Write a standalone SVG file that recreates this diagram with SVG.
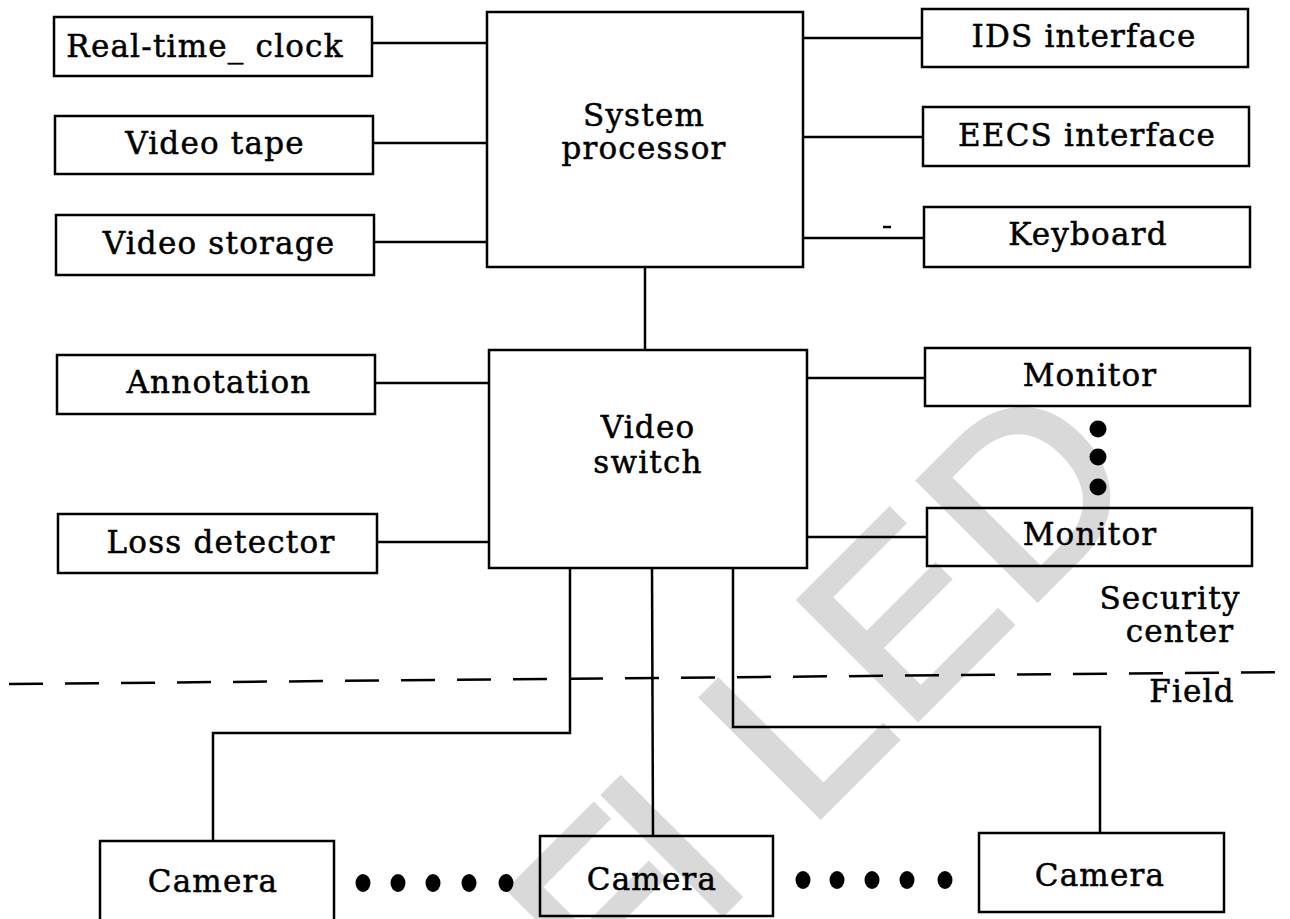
<svg xmlns="http://www.w3.org/2000/svg" width="1290" height="919" viewBox="0 0 1290 919">
<style>
.box{fill:none;stroke:#000;stroke-width:2.5}
.ln{fill:none;stroke:#000;stroke-width:2.5}
.lbl{font-family:"DejaVu Serif","Liberation Serif",serif;font-size:31px;letter-spacing:1.2px;fill:#000;stroke:#000;stroke-width:0.5;text-anchor:middle}
.wm{font-family:"Liberation Sans",Arial,sans-serif;font-size:243px;fill:#d9d9d9;stroke:#d9d9d9;stroke-width:6;stroke-linejoin:miter}
.dot{fill:#000}
</style>
<rect width="1290" height="919" fill="#fff"/>
<g id="watermark">
<text class="wm" transform="translate(614.1,1022.1) rotate(-45)">F</text>
<text class="wm" transform="translate(707.1,929.1) rotate(-45)">I</text>
<text class="wm" transform="translate(806.5,829.8) rotate(-45)">L</text>
<text class="wm" transform="translate(904,732.2) rotate(-45)">E</text>
<text class="wm" transform="translate(1023.5,612.7) rotate(-45)">D</text>
</g>
<g id="connectors">
<line class="ln" x1="372" y1="43" x2="487" y2="43"/>
<line class="ln" x1="373" y1="143" x2="487" y2="143"/>
<line class="ln" x1="374" y1="242" x2="487" y2="242"/>
<line class="ln" x1="803" y1="38" x2="922" y2="38"/>
<line class="ln" x1="803" y1="137" x2="923" y2="137"/>
<line class="ln" x1="803" y1="238" x2="924" y2="238"/>
<line class="ln" x1="883" y1="227" x2="891" y2="227"/>
<line class="ln" x1="645" y1="267" x2="645" y2="350"/>
<line class="ln" x1="375" y1="383" x2="489" y2="383"/>
<line class="ln" x1="377" y1="542" x2="489" y2="542"/>
<line class="ln" x1="807" y1="378" x2="925" y2="378"/>
<line class="ln" x1="807" y1="537" x2="927" y2="537"/>
<polyline class="ln" points="570,568 570,733 213,733 213,841"/>
<line class="ln" x1="652" y1="568" x2="653" y2="836"/>
<polyline class="ln" points="733,568 733,727 1100,727 1100,833"/>
<line class="ln" x1="9" y1="684" x2="1290" y2="672" stroke-dasharray="34 22"/>
</g>
<g id="real-time-clock"><rect class="box" x="54" y="17" width="318" height="59"/><text class="lbl" x="205" y="57">Real-time_ clock</text></g>
<g id="video-tape"><rect class="box" x="55" y="116" width="318" height="58"/><text class="lbl" x="215" y="154">Video tape</text></g>
<g id="video-storage"><rect class="box" x="56" y="215" width="318" height="60"/><text class="lbl" x="219" y="254">Video storage</text></g>
<g id="system-processor"><rect class="box" x="487" y="12" width="316" height="255"/><text class="lbl" x="644" y="126">System</text><text class="lbl" x="644" y="159">processor</text></g>
<g id="ids-interface"><rect class="box" x="922" y="9" width="326" height="58"/><text class="lbl" x="1084" y="47">IDS interface</text></g>
<g id="eecs-interface"><rect class="box" x="923" y="107" width="326" height="59"/><text class="lbl" x="1087" y="146">EECS interface</text></g>
<g id="keyboard"><rect class="box" x="924" y="207" width="326" height="60"/><text class="lbl" x="1088" y="245">Keyboard</text></g>
<g id="annotation"><rect class="box" x="57" y="355" width="318" height="59"/><text class="lbl" x="219" y="393">Annotation</text></g>
<g id="loss-detector"><rect class="box" x="58" y="514" width="319" height="59"/><text class="lbl" x="221" y="553">Loss detector</text></g>
<g id="video-switch"><rect class="box" x="489" y="350" width="318" height="218"/><text class="lbl" x="648" y="438">Video</text><text class="lbl" x="648" y="473">switch</text></g>
<g id="monitor-1"><rect class="box" x="925" y="348" width="325" height="58"/><text class="lbl" x="1090" y="386">Monitor</text></g>
<g id="monitor-dots"><circle class="dot" cx="1098" cy="429" r="8.5"/><circle class="dot" cx="1098" cy="457" r="8.5"/><circle class="dot" cx="1098" cy="487" r="8.5"/></g>
<g id="monitor-2"><rect class="box" x="927" y="508" width="325" height="58"/><text class="lbl" x="1090" y="545">Monitor</text></g>
<g id="security-center"><text class="lbl" x="1170" y="609">Security</text><text class="lbl" x="1180" y="642">center</text></g>
<g id="field"><text class="lbl" x="1192" y="702">Field</text></g>
<g id="camera-1"><rect class="box" x="100" y="841" width="234" height="85"/><text class="lbl" x="213" y="892">Camera</text></g>
<g id="camera-dots-1"><ellipse class="dot" cx="363" cy="883" rx="7.5" ry="9"/><ellipse class="dot" cx="398" cy="883" rx="7.5" ry="9"/><ellipse class="dot" cx="433" cy="883" rx="7.5" ry="9"/><ellipse class="dot" cx="469" cy="883" rx="7.5" ry="9"/><ellipse class="dot" cx="506" cy="883" rx="7.5" ry="9"/></g>
<g id="camera-2"><rect class="box" x="540" y="836" width="233" height="80"/><text class="lbl" x="652" y="890">Camera</text></g>
<g id="camera-dots-2"><ellipse class="dot" cx="803" cy="880" rx="7.5" ry="9"/><ellipse class="dot" cx="837" cy="880" rx="7.5" ry="9"/><ellipse class="dot" cx="872" cy="880" rx="7.5" ry="9"/><ellipse class="dot" cx="907" cy="880" rx="7.5" ry="9"/><ellipse class="dot" cx="945" cy="880" rx="7.5" ry="9"/></g>
<g id="camera-3"><rect class="box" x="979" y="833" width="245" height="79"/><text class="lbl" x="1100" y="886">Camera</text></g>
</svg>
